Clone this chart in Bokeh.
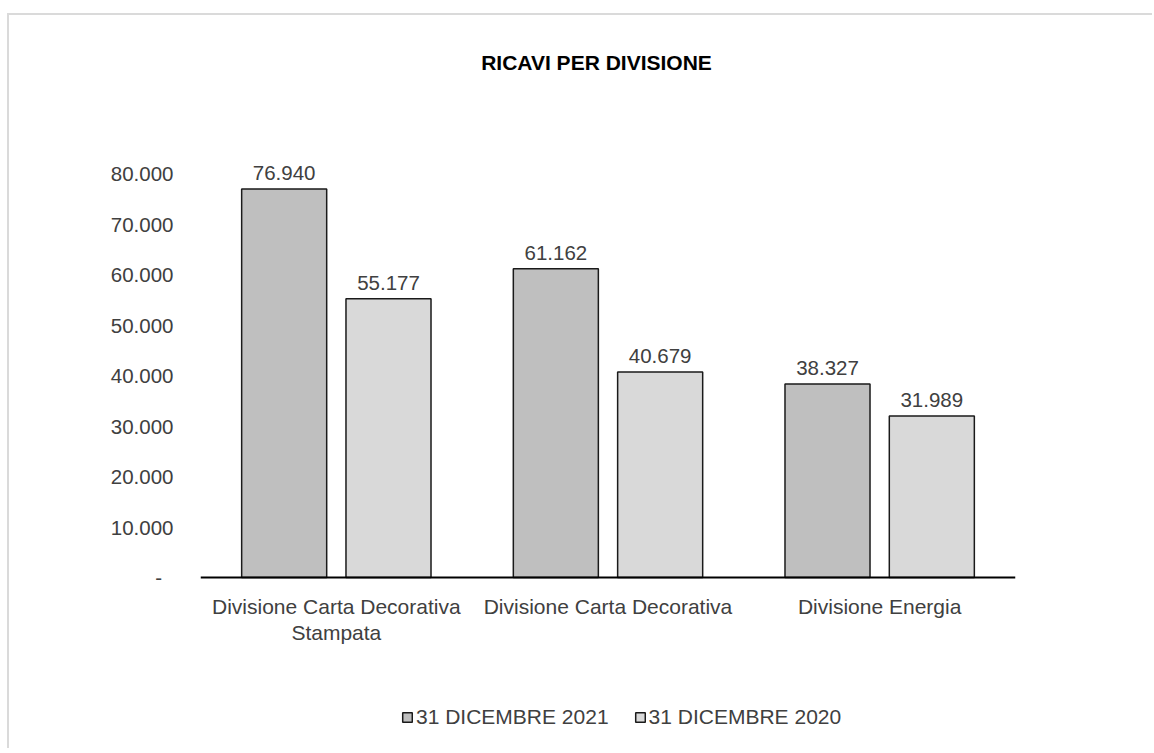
from bokeh.plotting import figure
from bokeh.models import (ColumnDataSource, Range1d, FactorRange, FixedTicker, CustomJSTickFormatter,
                          LabelSet, Label, Legend, LegendItem, Span)
from bokeh.core.properties import value
from bokeh.transform import dodge
from bokeh.embed import file_html
from bokeh.resources import INLINE

# ---- data ----
categories = ["Divisione Carta Decorativa Stampata", "Divisione Carta Decorativa", "Divisione Energia"]
label_line1 = ["Divisione Carta Decorativa", "Divisione Carta Decorativa", "Divisione Energia"]
label_line2 = ["Stampata", "", ""]
series_names = ["31 DICEMBRE 2021", "31 DICEMBRE 2020"]
values_2021 = [76940, 61162, 38327]
values_2020 = [55177, 40679, 31989]
y_ticks = [0, 10000, 20000, 30000, 40000, 50000, 60000, 70000, 80000]
title_text = "RICAVI PER DIVISIONE"

FONT = "Liberation Sans"
TXT = "#404040"
FS = "20.5px"
FS_CAT = "21px"


def fmt(v):
    return f"{v:,}".replace(",", ".")


src = ColumnDataSource(dict(
    cat=categories,
    zero=[0] * len(categories),
    v21=values_2021,
    v20=values_2020,
    t21=[fmt(v) for v in values_2021],
    t20=[fmt(v) for v in values_2020],
    l1=label_line1,
    l2=label_line2,
))

# canvas offset created by the outer chart border (page coords -> canvas coords)
OX, OY = 9, 15
W, H = 1145, 735
FRAME_LEFT, FRAME_RIGHT, ZERO_Y = 200 - OX, 1015 - OX, 577 - OY
PX_PER_10K = 50.5
y0 = -(H - ZERO_Y) / PX_PER_10K * 10000
y1 = ZERO_Y / PX_PER_10K * 10000

p = figure(width=W, height=H, output_backend="svg", toolbar_location=None,
           x_range=FactorRange(factors=categories, range_padding=0),
           y_range=Range1d(y0, y1), x_axis_location=None,
           min_border_left=FRAME_LEFT, min_border_right=W - FRAME_RIGHT,
           min_border_top=0, min_border_bottom=0,
           styles={"margin-left": "7px", "margin-top": "13px",
                   "border-left": "2px solid #dadada", "border-top": "2px solid #dadada"})
p.background_fill_color = "white"
p.border_fill_color = "white"
p.outline_line_color = None
p.grid.visible = False

OFF = 0.192
BW = 0.313
r21 = p.vbar(x=dodge("cat", -OFF, range=p.x_range), top="v21", width=BW, source=src,
             fill_color="#bfbfbf", line_color="#1a1a1a", line_width=1.5)
r20 = p.vbar(x=dodge("cat", OFF, range=p.x_range), top="v20", width=BW, source=src,
             fill_color="#d9d9d9", line_color="#1a1a1a", line_width=1.5)

# baseline (category axis line)
p.add_layout(Span(location=0, dimension="width", line_color="black", line_width=2))

# value labels
for off, vcol, tcol in [(-OFF, "v21", "t21"), (OFF, "v20", "t20")]:
    p.add_layout(LabelSet(x=dodge("cat", off, range=p.x_range), y=vcol, text=tcol, source=src,
                          text_align="center", text_baseline="bottom", y_offset=9,
                          text_font=value(FONT), text_font_size=value(FS), text_color=TXT))

# category labels (two lines)
for col, yoff in [("l1", -29), ("l2", -55)]:
    p.add_layout(LabelSet(x="cat", y="zero", text=col, source=src,
                          text_align="center", text_baseline="middle", y_offset=yoff,
                          text_font=value(FONT), text_font_size=value(FS_CAT), text_color=TXT))

# y axis
ya = p.yaxis[0]
ya.axis_line_color = None
ya.major_tick_line_color = None
ya.minor_tick_line_color = None
ya.major_tick_out = 0
ya.major_tick_in = 0
ya.major_label_standoff = 27
ya.ticker = FixedTicker(ticks=y_ticks)
ya.formatter = CustomJSTickFormatter(code="""
    if (tick == 0) { return "-  "; }
    return (tick / 1000).toFixed(0) + ".000";
""")
ya.major_label_text_font = FONT
ya.major_label_text_font_size = FS
ya.major_label_text_color = TXT

# title (frame-relative screen units)
p.add_layout(Label(x=396, y=H - (62 - OY), x_units="screen", y_units="screen",
                   text=title_text, text_align="center", text_baseline="middle",
                   text_font=FONT, text_font_size="21px", text_font_style="bold",
                   text_color="black"))

legend = Legend(items=[LegendItem(label=series_names[0], renderers=[r21]),
                       LegendItem(label=series_names[1], renderers=[r20])],
                orientation="horizontal", location=(201, H - (729 - OY)),
                padding=0, margin=0, spacing=25, label_standoff=3,
                glyph_width=12, glyph_height=12,
                border_line_color=None, background_fill_alpha=0,
                label_text_font=FONT, label_text_font_size=FS_CAT, label_text_color=TXT)
p.add_layout(legend, "center")

open("out.html", "w").write(file_html(p, INLINE))
